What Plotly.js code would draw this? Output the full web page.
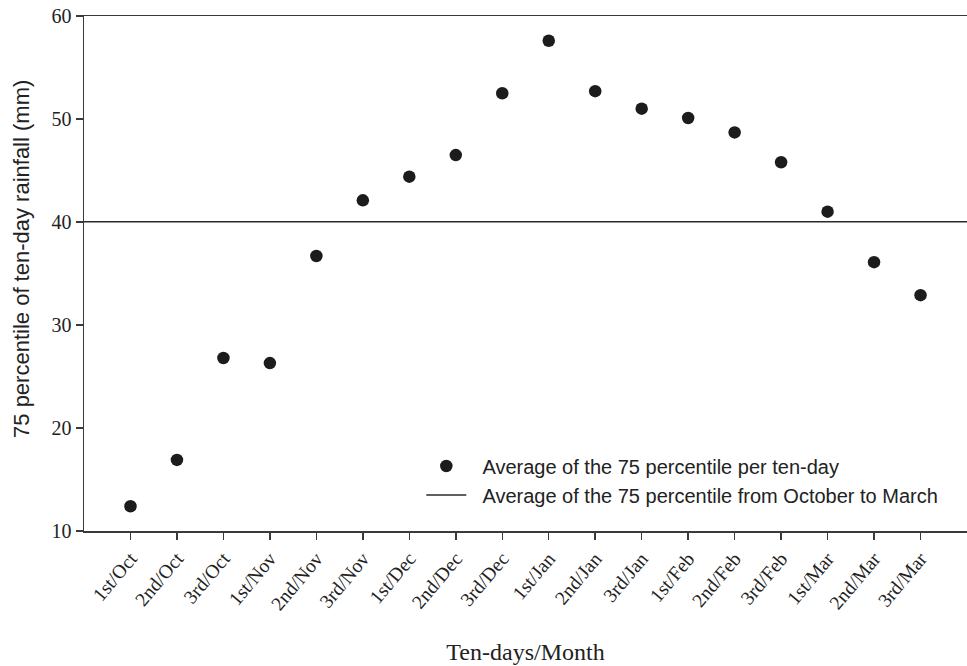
<!DOCTYPE html>
<html>
<head>
<meta charset="utf-8">
<script src="https://cdn.plot.ly/plotly-3.0.1.min.js"></script>
<style>html,body{margin:0;padding:0;background:#fff;}#chart{width:967px;height:666px;}</style>
</head>
<body>
<div id="chart"></div>
<script>
const categories = ["1st/Oct","2nd/Oct","3rd/Oct","1st/Nov","2nd/Nov","3rd/Nov","1st/Dec","2nd/Dec","3rd/Dec","1st/Jan","2nd/Jan","3rd/Jan","1st/Feb","2nd/Feb","3rd/Feb","1st/Mar","2nd/Mar","3rd/Mar"];
const percentile75 = [12.4,16.9,26.8,26.3,36.7,42.1,44.4,46.5,52.5,57.6,52.7,51.0,50.1,48.7,45.8,41.0,36.1,32.9];
const yTicks = [10,20,30,40,50,60];
const seriesNames = ["Average of the 75 percentile per ten-day","Average of the 75 percentile from October to March"];
const xTitle = "Ten-days/Month";
const yTitle = "75 percentile of ten-day rainfall (mm)";

const positions = categories.map((c,i)=>i);
const xRange = [-1, categories.length];
const overallAverage = percentile75.reduce((a,b)=>a+b,0)/percentile75.length;

const serif = "Liberation Serif, Times New Roman, serif";
const sans = "Liberation Sans, Arial, sans-serif";
const axisColor = "#3a3a3a";
const pad = "\u00a0\u00a0";

const traces = [
  {
    type: "scatter", mode: "markers", name: pad + seriesNames[0],
    x: positions, y: percentile75,
    marker: {color: "#1c1c1c", size: 12.5},
    hoverinfo: "skip"
  },
  {
    type: "scatter", mode: "lines", name: pad + seriesNames[1],
    x: xRange, y: [overallAverage, overallAverage],
    line: {color: "#2a2a2a", width: 1.4},
    hoverinfo: "skip"
  }
];

const layout = {
  width: 967, height: 666,
  paper_bgcolor: "#fff", plot_bgcolor: "#fff",
  margin: {l: 84, r: 0, t: 16, b: 135},
  showlegend: true,
  legend: {
    x: 0.382, y: 0.164, xanchor: "left", yanchor: "top",
    font: {family: sans, size: 20, color: "#222"},
    bgcolor: "rgba(0,0,0,0)", borderwidth: 0,
    tracegroupgap: 0, itemwidth: 40
  },
  xaxis: {
    range: xRange,
    tickmode: "array", tickvals: positions, ticktext: categories,
    tickangle: -50,
    ticks: "outside", ticklen: 7, tickwidth: 1.5, tickcolor: axisColor,
    showline: true, linecolor: axisColor, linewidth: 1.5, mirror: true,
    showgrid: false, zeroline: false,
    tickfont: {family: serif, size: 19.5, color: "#222"},
    title: {text: xTitle, font: {family: serif, size: 24, color: "#222"}, standoff: 30},
    automargin: false
  },
  yaxis: {
    range: [10, 60],
    tickmode: "array", tickvals: yTicks,
    ticks: "outside", ticklen: 7, tickwidth: 1.5, tickcolor: axisColor,
    showline: true, linecolor: axisColor, linewidth: 1.5, mirror: false,
    showgrid: false, zeroline: false,
    tickfont: {family: serif, size: 20, color: "#222"},
    automargin: false
  },
  annotations: [{
    text: yTitle, textangle: -90,
    xref: "paper", yref: "paper", x: -0.0715, y: 0.528,
    xanchor: "center", yanchor: "middle", showarrow: false,
    font: {family: sans, size: 22, color: "#222"}
  }]
};

Plotly.newPlot("chart", traces, layout, {staticPlot: true, displayModeBar: false});
</script>
</body>
</html>
